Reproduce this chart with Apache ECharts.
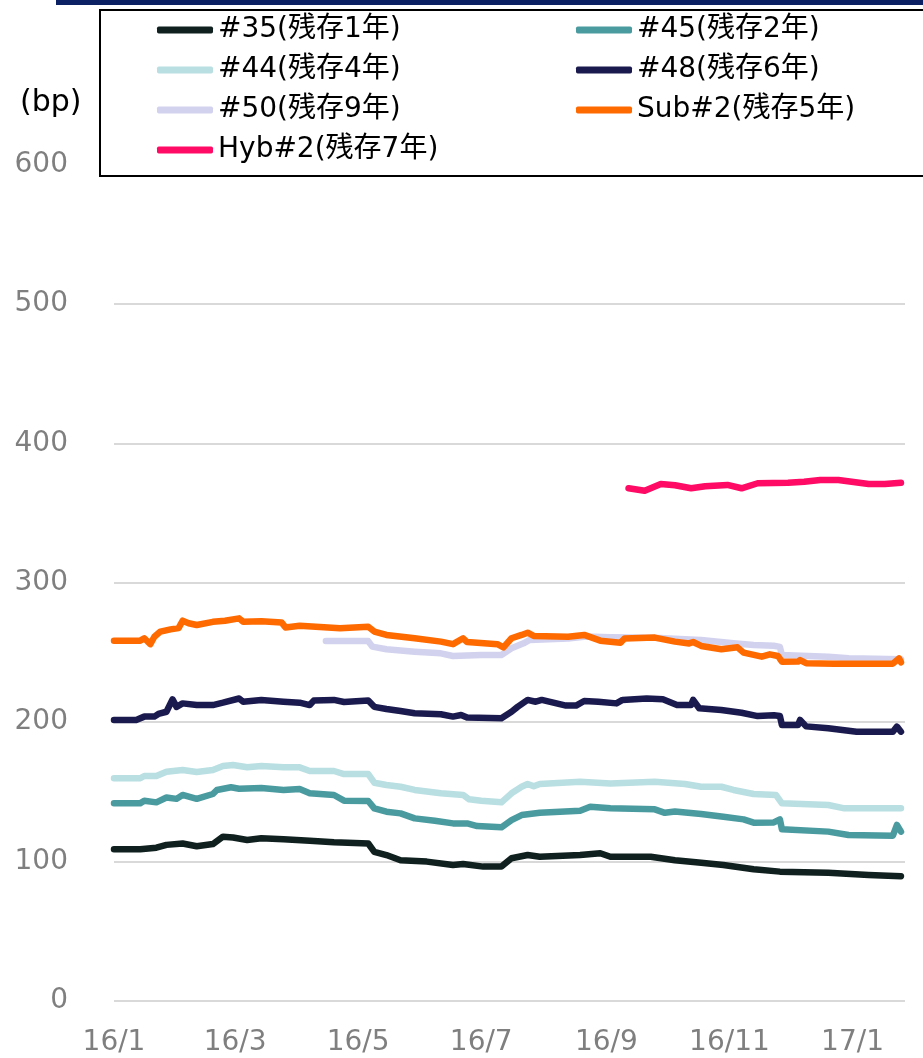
<!DOCTYPE html>
<html>
<head>
<meta charset="UTF-8">
<title>spread</title>
<script src="https://cdn.jsdelivr.net/npm/echarts@6/dist/echarts.min.js"></script>
<style>
  html, body { margin: 0; padding: 0; background: #fff; }
  #chart { width: 923px; height: 1058px; }
</style>
</head>
<body>
<div id="chart"></div>
<script>
// series names, in legend / drawing order
var names = ['#35(残存1年)', '#45(残存2年)', '#44(残存4年)', '#48(残存6年)', '#50(残存9年)', 'Sub#2(残存5年)', 'Hyb#2(残存7年)'];

// x tick labels (every other month)
var xTickDates = ['2016-01-01', '2016-03-01', '2016-05-01', '2016-07-01', '2016-09-01', '2016-11-01', '2017-01-01'];
var xTickLabels = ['16/1', '16/3', '16/5', '16/7', '16/9', '16/11', '17/1'];

// spreads (bp), [date, value]
var s35 = [
  ['2016-01-01', 108.8], ['2016-01-14', 108.8], ['2016-01-22', 110], ['2016-01-27', 112], ['2016-02-04', 113],
  ['2016-02-11', 111], ['2016-02-19', 112.6], ['2016-02-24', 117.9], ['2016-02-29', 117.3], ['2016-03-07', 115.5],
  ['2016-03-14', 116.7], ['2016-03-25', 116], ['2016-04-07', 115], ['2016-04-19', 113.8], ['2016-05-06', 113],
  ['2016-05-09', 107], ['2016-05-15', 104.7], ['2016-05-22', 101], ['2016-06-04', 100], ['2016-06-17', 97.6],
  ['2016-06-22', 98.3], ['2016-07-02', 96.4], ['2016-07-11', 96.4], ['2016-07-16', 102.4], ['2016-07-24', 104.7],
  ['2016-07-30', 103.5], ['2016-08-19', 104.7], ['2016-08-29', 106], ['2016-09-03', 103.5], ['2016-09-23', 103.5],
  ['2016-10-05', 101], ['2016-10-18', 99.2], ['2016-10-29', 97.6], ['2016-11-13', 94.5], ['2016-11-26', 92.8],
  ['2016-12-20', 92], ['2017-01-09', 90.4], ['2017-01-25', 89.5]
];
var s45 = [
  ['2016-01-01', 141.8], ['2016-01-14', 141.8], ['2016-01-16', 143.7], ['2016-01-22', 142.5], ['2016-01-27', 146],
  ['2016-02-01', 145], ['2016-02-04', 147.8], ['2016-02-11', 145], ['2016-02-19', 148.5], ['2016-02-21', 151.4],
  ['2016-02-28', 153.3], ['2016-03-03', 152.3], ['2016-03-14', 152.8], ['2016-03-25', 151.4], ['2016-04-02', 152],
  ['2016-04-07', 149], ['2016-04-19', 147.8], ['2016-04-24', 143.7], ['2016-05-06', 143.5], ['2016-05-09', 138.2],
  ['2016-05-15', 135.8], ['2016-05-22', 134.6], ['2016-05-29', 131], ['2016-06-08', 129.3], ['2016-06-17', 127.4],
  ['2016-06-24', 127.4], ['2016-06-29', 125.5], ['2016-07-11', 124.6], ['2016-07-16', 129.8], ['2016-07-21', 133.4],
  ['2016-07-30', 135], ['2016-08-19', 136.5], ['2016-08-24', 139.4], ['2016-09-03', 138.2], ['2016-09-25', 137.5],
  ['2016-09-30', 135], ['2016-10-05', 136], ['2016-10-18', 134.1], ['2016-10-29', 132.2], ['2016-11-08', 130.3],
  ['2016-11-13', 127.9], ['2016-11-23', 128.1], ['2016-11-26', 130.3], ['2016-11-27', 123.2], ['2016-12-20', 121.5],
  ['2016-12-30', 119.1], ['2017-01-21', 118.6], ['2017-01-23', 126.3], ['2017-01-25', 121.5]
];
var s44 = [
  ['2016-01-01', 159.8], ['2016-01-14', 159.8], ['2016-01-16', 161.4], ['2016-01-22', 161.4], ['2016-01-27', 164.5],
  ['2016-02-04', 165.7], ['2016-02-11', 164.3], ['2016-02-19', 165.7], ['2016-02-24', 168.6], ['2016-02-29', 169.3],
  ['2016-03-07', 167.7], ['2016-03-14', 168.6], ['2016-03-25', 167.6], ['2016-04-02', 167.6], ['2016-04-07', 165],
  ['2016-04-19', 165], ['2016-04-24', 162.8], ['2016-05-06', 162.8], ['2016-05-09', 156.6], ['2016-05-15', 155],
  ['2016-05-22', 153.7], ['2016-05-29', 151.4], ['2016-06-11', 149], ['2016-06-22', 147.8], ['2016-06-25', 144.7],
  ['2016-07-01', 143.7], ['2016-07-11', 142.5], ['2016-07-16', 149], ['2016-07-21', 153.7], ['2016-07-24', 155.7],
  ['2016-07-27', 154], ['2016-07-30', 155.7], ['2016-08-19', 157.3], ['2016-09-03', 156], ['2016-09-25', 157.3],
  ['2016-10-10', 155.7], ['2016-10-18', 153.7], ['2016-10-28', 153.7], ['2016-11-03', 151.4], ['2016-11-13', 148.5],
  ['2016-11-24', 147.8], ['2016-11-27', 141.8], ['2016-12-20', 140.6], ['2016-12-28', 138.2], ['2017-01-25', 138.2]
];
var s48 = [
  ['2016-01-01', 201.6], ['2016-01-12', 201.6], ['2016-01-16', 204], ['2016-01-21', 204], ['2016-01-23', 205.9],
  ['2016-01-27', 207.5], ['2016-01-30', 216.4], ['2016-02-01', 211], ['2016-02-04', 213.5], ['2016-02-11', 212.3],
  ['2016-02-19', 212.3], ['2016-02-24', 214], ['2016-03-03', 217], ['2016-03-05', 214.7], ['2016-03-14', 216],
  ['2016-03-25', 214.7], ['2016-04-02', 214], ['2016-04-07', 212.3], ['2016-04-09', 215.5], ['2016-04-19', 216],
  ['2016-04-24', 214.5], ['2016-05-06', 215.5], ['2016-05-09', 211], ['2016-05-15', 209.5], ['2016-05-22', 208],
  ['2016-05-29', 206.4], ['2016-06-11', 205.7], ['2016-06-17', 204], ['2016-06-21', 205.2], ['2016-06-24', 203.3],
  ['2016-07-11', 202.8], ['2016-07-16', 207.5], ['2016-07-19', 211], ['2016-07-24', 216], ['2016-07-28', 214.7],
  ['2016-07-31', 216], ['2016-08-12', 211.9], ['2016-08-17', 211.9], ['2016-08-21', 215.2], ['2016-08-28', 214.7],
  ['2016-09-06', 213.5], ['2016-09-09', 216], ['2016-09-21', 217], ['2016-09-29', 216.4], ['2016-10-06', 212.3],
  ['2016-10-13', 212.3], ['2016-10-14', 216], ['2016-10-17', 210], ['2016-10-28', 208.8], ['2016-11-07', 206.8],
  ['2016-11-15', 204.4], ['2016-11-23', 205], ['2016-11-26', 204.4], ['2016-11-27', 198], ['2016-12-05', 198],
  ['2016-12-06', 201.6], ['2016-12-09', 197], ['2016-12-20', 195.6], ['2017-01-03', 193.2], ['2017-01-21', 193.2],
  ['2017-01-23', 196.8], ['2017-01-25', 193.2]
];
var s50 = [
  ['2016-04-15', 258.2], ['2016-05-06', 258.2], ['2016-05-08', 254.2], ['2016-05-15', 252.3], ['2016-05-29', 250.6],
  ['2016-06-11', 249.4], ['2016-06-17', 247.5], ['2016-07-01', 248.2], ['2016-07-11', 248.2], ['2016-07-16', 253],
  ['2016-07-22', 256.6], ['2016-07-25', 259], ['2016-08-13', 260], ['2016-08-22', 261.5], ['2016-09-03', 261],
  ['2016-09-25', 260.5], ['2016-10-10', 259.5], ['2016-10-18', 259], ['2016-11-03', 256.6], ['2016-11-13', 255.4],
  ['2016-11-23', 254.8], ['2016-11-26', 254], ['2016-11-27', 248.2], ['2016-12-20', 247], ['2016-12-30', 245.8],
  ['2017-01-25', 245.1]
];
var sSub2 = [
  ['2016-01-01', 258.5], ['2016-01-14', 258.5], ['2016-01-16', 260.2], ['2016-01-19', 256], ['2016-01-21', 261.3],
  ['2016-01-24', 265], ['2016-01-29', 266.6], ['2016-02-02', 267.5], ['2016-02-04', 272.8], ['2016-02-07', 271],
  ['2016-02-11', 269.7], ['2016-02-19', 272], ['2016-02-25', 272.8], ['2016-03-03', 274.5], ['2016-03-05', 272],
  ['2016-03-14', 272.5], ['2016-03-24', 271.6], ['2016-03-26', 268], ['2016-04-02', 269.2], ['2016-04-22', 267.4],
  ['2016-05-06', 268.5], ['2016-05-09', 265], ['2016-05-15', 262.6], ['2016-05-29', 260.2], ['2016-06-11', 257.8],
  ['2016-06-17', 256], ['2016-06-22', 260.2], ['2016-06-24', 257.5], ['2016-07-09', 256], ['2016-07-12', 253.7],
  ['2016-07-16', 260.2], ['2016-07-21', 262.6], ['2016-07-24', 264.2], ['2016-07-27', 261.9], ['2016-08-13', 261.3],
  ['2016-08-21', 262.6], ['2016-08-29', 258.5], ['2016-09-08', 257], ['2016-09-10', 260], ['2016-09-25', 260.7],
  ['2016-10-05', 257.8], ['2016-10-12', 256.5], ['2016-10-14', 257.5], ['2016-10-18', 254.7], ['2016-10-28', 252.3],
  ['2016-11-05', 253.7], ['2016-11-08', 249.9], ['2016-11-17', 247], ['2016-11-21', 248.7], ['2016-11-25', 247.5],
  ['2016-11-27', 243.4], ['2016-12-05', 243.5], ['2016-12-06', 244.6], ['2016-12-09', 242.3], ['2016-12-23', 242],
  ['2017-01-21', 242], ['2017-01-24', 245.8], ['2017-01-25', 243]
];
var sHyb2 = [
  ['2016-09-12', 367.8], ['2016-09-20', 366], ['2016-09-28', 370.9], ['2016-10-05', 370], ['2016-10-13', 367.8],
  ['2016-10-20', 369.3], ['2016-10-31', 370.2], ['2016-11-07', 367.8], ['2016-11-15', 371.4], ['2016-11-30', 371.8],
  ['2016-12-08', 372.5], ['2016-12-16', 373.7], ['2016-12-25', 373.7], ['2017-01-09', 370.9], ['2017-01-17', 370.9],
  ['2017-01-25', 371.8]
];

var seriesData = [s35, s45, s44, s48, s50, sSub2, sHyb2];
var colors = ['#10201f', '#4a9ba0', '#b9dfe2', '#1b1a4e', '#d2d2ef', '#ff6a00', '#ff0a64'];

// date string -> local timestamp
function toTime(s) {
  var p = s.split('-');
  return new Date(+p[0], +p[1] - 1, +p[2]).getTime();
}
var tickTimes = xTickDates.map(toTime);

var font = "'DejaVu Sans', 'Noto Sans CJK JP', sans-serif";

var chart = echarts.init(document.getElementById('chart'));

var legendCommon = {
    orient: 'vertical',
    icon: 'roundRect',
    padding: 0,
    itemWidth: 56,
    itemHeight: 7,
    itemGap: 10,
    z: 10,
    itemStyle: { borderWidth: 0 },
    textStyle: { fontFamily: font, fontSize: 28, color: '#000', lineHeight: 30 }
};

var option = {
    animation: false,
    backgroundColor: '#fff',
    color: colors,
    grid: { left: 114, right: 18, top: 164.6, bottom: 57 },
    legend: [
        Object.assign({ left: 157, top: 15, data: [names[0], names[2], names[4], names[6]] }, legendCommon),
        Object.assign({ left: 576, top: 15, data: [names[1], names[3], names[5]] }, legendCommon)
    ],
    xAxis: {
        type: 'value',
        min: toTime('2016-01-01'),
        max: toTime('2017-01-27'),
        axisLine: { show: false },
        axisTick: { show: false },
        splitLine: { show: false },
        axisLabel: {
            customValues: tickTimes,
            margin: 28,
            fontFamily: font,
            fontSize: 28,
            color: '#7f7f7f',
            formatter: function (v) {
                var i = tickTimes.indexOf(v);
                return i >= 0 ? xTickLabels[i] : '';
            }
        }
    },
    yAxis: {
        type: 'value',
        min: 0,
        max: 600,
        interval: 100,
        axisLine: { show: false },
        axisTick: { show: false },
        splitLine: { lineStyle: { color: '#d9d9d9', width: 2 } },
        axisLabel: { margin: 46, fontFamily: font, fontSize: 28, color: '#7f7f7f' }
    },
    graphic: {
        elements: [
            { type: 'rect', z: 5, shape: { x: 56, y: 0, width: 880, height: 5 }, style: { fill: '#0b2163' } },
            { type: 'rect', z: 5, shape: { x: 100, y: 10, width: 840, height: 166 },
              style: { fill: '#fff', stroke: '#000', lineWidth: 2 } },
            { type: 'text', z: 5, left: 20, top: 88,
              style: { text: '(bp)', font: '30px ' + font, fill: '#000' } }
        ]
    },
    series: names.map(function (n, i) {
        return {
            name: n,
            type: 'line',
            data: seriesData[i].map(function (p) { return [toTime(p[0]), p[1]]; }),
            showSymbol: false,
            symbol: 'none',
            lineStyle: { width: 6.5, color: colors[i], cap: 'round', join: 'round' },
            itemStyle: { color: colors[i] }
        };
    })
};

chart.setOption(option);
</script>
</body>
</html>
